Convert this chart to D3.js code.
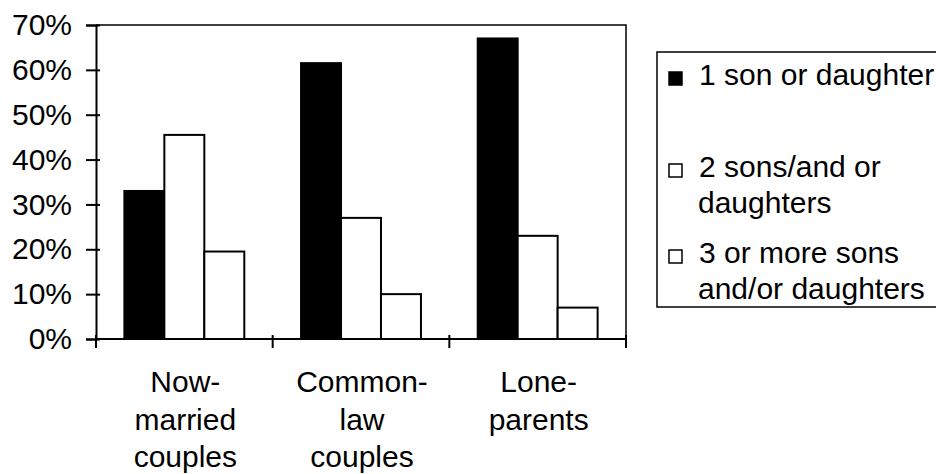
<!DOCTYPE html>
<html>
<head>
<meta charset="utf-8">
<script src="https://cdn.jsdelivr.net/npm/d3@7"></script>
<style>
  body { margin: 0; background: #fff; }
  text { font-family: "Liberation Sans", Arial, sans-serif; fill: #000; }
</style>
</head>
<body>
<div id="chart"></div>
<script>
// data
var categories = ["Now-married couples", "Common-law couples", "Lone-parents"];
var categoryLines = [["Now-", "married", "couples"], ["Common-", "law", "couples"], ["Lone-", "parents"]];
var seriesNames = ["1 son or daughter", "2 sons/and or daughters", "3 or more sons and/or daughters"];
var legendLines = [["1 son or daughter"], ["2 sons/and or", "daughters"], ["3 or more sons", "and/or daughters"]];
var oneChild = [33, 61.5, 67];
var twoChildren = [45.5, 27, 23];
var threeOrMore = [19.5, 10, 7];
var yTicks = [0, 10, 20, 30, 40, 50, 60, 70];
var seriesFill = ["#000", "#fff", "#fff"];

var values = [oneChild, twoChildren, threeOrMore];

var width = 936, height = 474;
var plot = {left: 96, right: 626, top: 25, bottom: 339};

var svg = d3.select("#chart")
  .append("svg")
  .attr("width", width)
  .attr("height", height);

// scales
var x = d3.scaleBand()
  .domain(categories)
  .range([plot.left, plot.right])
  .padding(0);

var xSub = d3.scaleBand()
  .domain(seriesNames)
  .range([0, x.bandwidth()])
  .paddingInner(0)
  .paddingOuter(0.71);

var y = d3.scaleLinear()
  .domain([0, 70])
  .range([plot.bottom, plot.top]);

// bars
var groups = svg.selectAll(".group")
  .data(categories)
  .enter()
  .append("g")
  .attr("class", "group")
  .attr("transform", function(d) { return "translate(" + x(d) + ",0)"; });

groups.selectAll("rect")
  .data(function(d, i) {
    return seriesNames.map(function(s, j) { return {series: s, j: j, value: values[j][i]}; });
  })
  .enter()
  .append("rect")
  .attr("x", function(d) { return xSub(d.series); })
  .attr("y", function(d) { return y(d.value); })
  .attr("width", xSub.bandwidth())
  .attr("height", function(d) { return y(0) - y(d.value); })
  .attr("fill", function(d) { return seriesFill[d.j]; })
  .attr("stroke", "#000")
  .attr("stroke-width", 2);

// plot frame (top and right)
svg.append("path")
  .attr("d", "M" + plot.left + "," + plot.top + "H" + plot.right + "V" + plot.bottom)
  .attr("fill", "none")
  .attr("stroke", "#000")
  .attr("stroke-width", 1.5);

// Y axis
var yAxis = svg.append("g")
  .attr("transform", "translate(" + plot.left + ",0)")
  .call(d3.axisLeft(y)
    .tickValues(yTicks)
    .tickFormat(function(d) { return d + "%"; })
    .tickSize(10)
    .tickPadding(14));
yAxis.select(".domain").attr("stroke-width", 2);
yAxis.selectAll(".tick line").attr("x1", 4).attr("stroke-width", 2);
yAxis.selectAll("text")
  .style("font-size", "30px")
  .style("font-family", "'Liberation Sans', Arial, sans-serif")
  .attr("fill", "#000");

// X axis baseline with ticks between categories
svg.append("line")
  .attr("x1", plot.left).attr("x2", plot.right)
  .attr("y1", y(0)).attr("y2", y(0))
  .attr("stroke", "#000")
  .attr("stroke-width", 2);

var bounds = categories.map(function(c) { return x(c); }).concat([x.range()[1]]);
svg.selectAll(".xtick")
  .data(bounds)
  .enter()
  .append("line")
  .attr("class", "xtick")
  .attr("x1", function(d) { return d; }).attr("x2", function(d) { return d; })
  .attr("y1", y(0) - 4).attr("y2", y(0) + 9)
  .attr("stroke", "#000")
  .attr("stroke-width", 2);

// category labels
categories.forEach(function(c, i) {
  svg.append("text")
    .attr("x", x(c) + x.bandwidth() / 2 + 1)
    .attr("y", 392)
    .attr("text-anchor", "middle")
    .style("font-size", "30px")
    .selectAll("tspan")
    .data(categoryLines[i])
    .enter()
    .append("tspan")
    .attr("x", x(c) + x.bandwidth() / 2 + 1)
    .attr("dy", function(d, k) { return k === 0 ? 0 : 37.5; })
    .text(function(d) { return d; });
});

// legend
var legend = svg.append("g");
legend.append("rect")
  .attr("x", 657).attr("y", 52)
  .attr("width", 300).attr("height", 255)
  .attr("fill", "#fff")
  .attr("stroke", "#000")
  .attr("stroke-width", 1.5);

var legendBase = [85, 177, 263];
seriesNames.forEach(function(s, i) {
  legend.append("rect")
    .attr("x", 669).attr("y", legendBase[i] - 13)
    .attr("width", 13).attr("height", 13)
    .attr("fill", seriesFill[i])
    .attr("stroke", "#000")
    .attr("stroke-width", 1.5);
  legend.append("text")
    .attr("y", legendBase[i])
    .style("font-size", "30px")
    .selectAll("tspan")
    .data(legendLines[i])
    .enter()
    .append("tspan")
    .attr("x", function(d, k) { return k === 0 ? 699 : 698; })
    .attr("dy", function(d, k) { return k === 0 ? 0 : 36; })
    .text(function(d) { return d; });
});
</script>
</body>
</html>
